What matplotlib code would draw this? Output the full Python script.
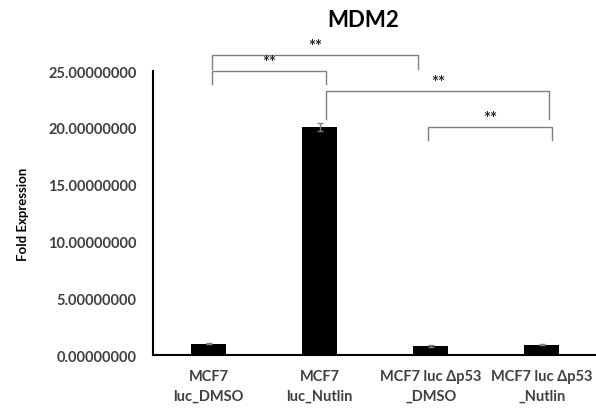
import matplotlib
matplotlib.use("Agg")
import matplotlib.pyplot as plt

plt.rcParams['font.family'] = ['Lato', 'DejaVu Sans']

categories = ["MCF7\nluc_DMSO", "MCF7\nluc_Nutlin", "MCF7 luc \u0394p53\n_DMSO", "MCF7 luc \u0394p53\n_Nutlin"]
values = [1.0, 20.1, 0.8, 0.9]
errors = [0.05, 0.35, 0.05, 0.05]
yticks = [0, 5, 10, 15, 20, 25]

# significance brackets: x left, x right, top, leg bottom left, leg bottom right, label
brackets = [
    (0.03, 1.89, 26.4, 25.2, 25.2, "**"),
    (0.03, 1.06, 25.0, 23.9, 23.9, "**"),
    (1.06, 3.07, 23.2, 20.8, 20.8, "**"),
    (1.98, 3.09, 20.1, 18.9, 18.9, "**"),
]

fig = plt.figure(figsize=(5.96, 4.14), dpi=100)
ax = fig.add_axes([0.257, 0.140, 0.745, 0.686])

x = list(range(len(categories)))
ax.bar(x, values, width=0.32, color='black', zorder=2)
ax.errorbar(x, values, yerr=errors, fmt='none', ecolor='#7f7f7f', elinewidth=1, capsize=2.5, zorder=3)

ax.set_xlim(-0.5, 3.5)
ax.set_ylim(0, 25)
ax.set_yticks(yticks)
ax.set_yticklabels(["%.8f" % v for v in yticks], fontsize=10.5, fontweight='bold', color='#404040')
ax.set_xticks(x)
ax.set_xticklabels(categories, fontsize=10.5, fontweight='bold', color='#404040', linespacing=1.5)
ax.tick_params(length=0, pad=12)
ax.tick_params(axis='x', pad=10)

for s in ['top', 'right']:
    ax.spines[s].set_visible(False)
for s in ['left', 'bottom']:
    ax.spines[s].set_color('black')
    ax.spines[s].set_linewidth(1.5)

ax.set_ylabel("Fold Expression", fontsize=9.5, fontweight='bold', labelpad=14)

for x0, x1, top, b0, b1, lab in brackets:
    ax.plot([x0, x0, x1, x1], [b0, top, top, b1], color='#7f7f7f', lw=1, clip_on=False)
    ax.text((x0 + x1) / 2, top + 0.1, lab, ha='center', va='bottom', fontsize=12, fontweight='bold', color='#262626')

fig.text(0.61, 0.95, "MDM2", ha='center', va='center', fontsize=16, fontweight='bold')

fig.savefig("out.png", dpi=100)
